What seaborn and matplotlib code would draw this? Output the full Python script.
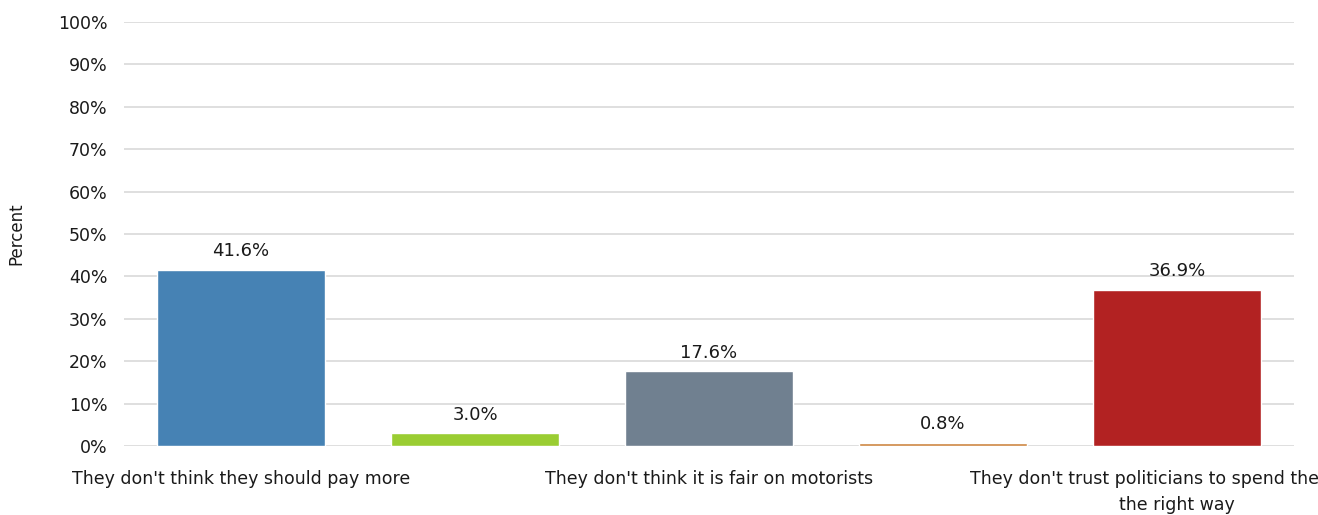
import matplotlib
matplotlib.use("Agg")
import matplotlib.pyplot as plt
import seaborn as sns
import pandas as pd

categories = [
    "They don't think they should pay more",
    "They think the money will be wasted",
    "They don't think it is fair on motorists",
    "Other",
    "They don't trust politicians to spend the money\nthe right way",
]
values = [41.6, 3.0, 17.6, 0.8, 36.9]
colors = ["#4682B4", "#9ACD32", "#708090", "#CD853F", "#B22222"]
yticks = list(range(0, 101, 10))

sns.set_theme(style="white")
plt.rcParams["font.family"] = ["DejaVu Sans"]

df = pd.DataFrame({"reason": categories, "pct": values})

fig = plt.figure(figsize=(13.18, 5.15), dpi=100)
ax = fig.add_axes([124 / 1318, 1 - 446 / 515, (1294 - 124) / 1318, (446 - 22) / 515])

sns.barplot(data=df, x="reason", y="pct", hue="reason", palette=colors,
            width=0.72, legend=False, ax=ax, saturation=1)

for cont in ax.containers:
    ax.bar_label(cont, fmt="%.1f%%", padding=7, fontsize=13, color="#1a1a1a")

ax.set_ylim(0, 100)
ax.set_yticks(yticks)
ax.set_yticklabels([f"{t}%" for t in yticks], fontsize=12.5, color="#1a1a1a")
ax.yaxis.grid(True, color="#D9D9D9", linewidth=1.2)
ax.set_axisbelow(True)
for s in ax.spines.values():
    s.set_visible(False)
ax.tick_params(axis="both", length=0)
ax.tick_params(axis="y", pad=12)
ax.tick_params(axis="x", pad=17)

ax.set_xticks(range(len(categories)))
ax.set_xticklabels([c if i % 2 == 0 else "" for i, c in enumerate(categories)],
                   fontsize=12.5, color="#1a1a1a", linespacing=1.6)
ax.set_xlabel("")
ax.set_ylabel("Percent", fontsize=12, color="#1a1a1a", labelpad=23)
ax.set_xlim(-0.5, len(categories) - 0.5)

fig.savefig("out.png", dpi=100)
